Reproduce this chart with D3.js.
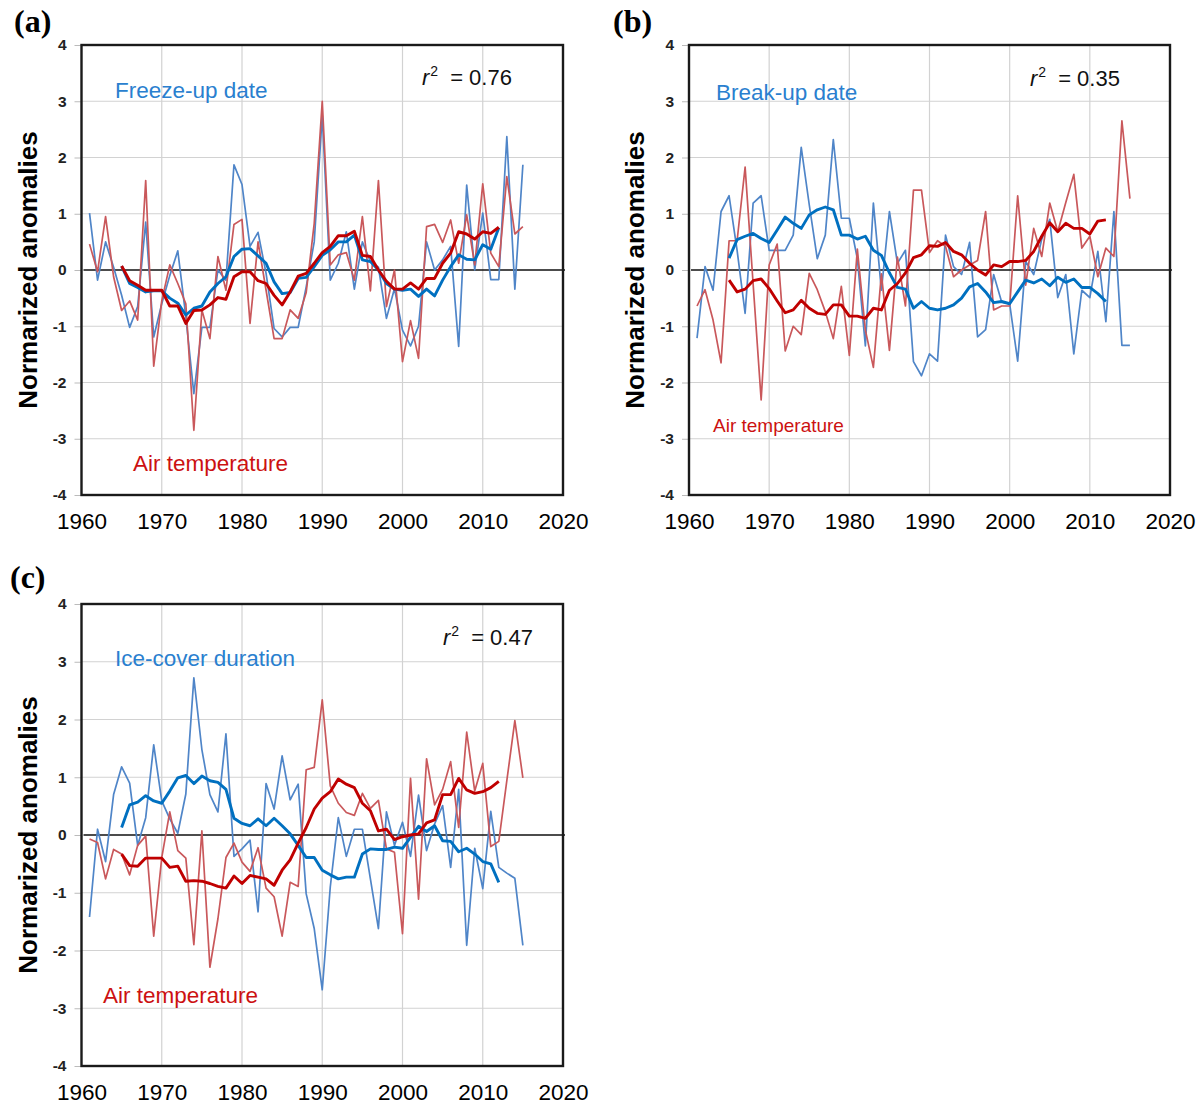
<!DOCTYPE html>
<html>
<head>
<meta charset="utf-8">
<script src="https://cdn.jsdelivr.net/npm/d3@7"></script>
<style>
  body { margin: 0; background: #fff; }
  svg { display: block; }
</style>
</head>
<body>
<svg id="chart" width="1200" height="1110"></svg>
<script>
// annual series start in 1961, 5-yr running means cover 1965-2012
var annualYears = d3.range(1961, 2016);
var smoothYears = d3.range(1965, 2013);
var xTicks = [1960, 1970, 1980, 1990, 2000, 2010, 2020];
var yTicks = [-4, -3, -2, -1, 0, 1, 2, 3, 4];

// (a) freeze-up
var freezeUp = [1.01, -0.18, 0.50, 0.05, -0.45, -1.02, -0.65, 0.85, -1.19, -0.60,
    -0.10, 0.34, -0.83, -2.20, -1.02, -1.02, 0.00, -0.18, 1.87, 1.52,
    0.42, 0.67, -0.06, -1.04, -1.19, -1.02, -1.02, -0.30, 0.50, 2.75,
    -0.18, 0.12, 0.68, -0.34, 0.50, 0.15, 0.05, -0.86, -0.33, -1.07,
    -1.35, -1.00, 0.50, 0.00, 0.18, 0.42, -1.36, 1.51, 0.00, 1.01,
    -0.17, -0.17, 2.37, -0.34, 1.87];
var airFreeze = [0.46, -0.03, 0.95, -0.12, -0.72, -0.55, -0.89, 1.59, -1.71, -0.55,
    0.09, -0.24, -0.60, -2.85, -0.71, -1.22, 0.24, -0.36, 0.81, 0.90,
    -0.95, 0.50, -0.36, -1.22, -1.22, -0.71, -0.86, -0.40, 0.83, 3.00,
    0.09, 0.27, 0.31, -0.18, 0.95, -0.37, 1.59, -0.65, 0.00, -1.63,
    -0.90, -1.57, 0.77, 0.81, 0.49, 0.89, 0.12, 0.98, 0.09, 1.53,
    0.30, 0.06, 1.66, 0.64, 0.77];
var freezeUpMean = [0.07, -0.24, -0.31, -0.39, -0.37, -0.37, -0.50, -0.59, -0.80, -0.68,
    -0.64, -0.39, -0.24, -0.12, 0.24, 0.37, 0.38, 0.25, 0.12, -0.21,
    -0.42, -0.40, -0.15, -0.13, 0.06, 0.26, 0.36, 0.50, 0.50, 0.62,
    0.18, 0.15, 0.00, -0.24, -0.34, -0.36, -0.34, -0.47, -0.34, -0.46,
    -0.18, 0.06, 0.27, 0.19, 0.18, 0.45, 0.37, 0.75];
var airFreezeMean = [0.07, -0.19, -0.27, -0.36, -0.36, -0.36, -0.64, -0.64, -0.95, -0.72,
    -0.71, -0.62, -0.49, -0.52, -0.12, -0.03, -0.03, -0.19, -0.24, -0.45,
    -0.62, -0.39, -0.11, -0.06, 0.12, 0.31, 0.42, 0.61, 0.61, 0.69,
    0.26, 0.24, 0.00, -0.20, -0.34, -0.34, -0.23, -0.34, -0.15, -0.15,
    0.12, 0.30, 0.68, 0.64, 0.55, 0.68, 0.65, 0.76];

// (b) break-up
var breakUp = [-1.21, 0.06, -0.36, 1.04, 1.32, 0.35, -0.77, 1.19, 1.32, 0.35,
    0.35, 0.35, 0.62, 2.18, 1.16, 0.20, 0.62, 2.32, 0.92, 0.92,
    0.20, -1.35, 1.19, -0.36, 1.04, 0.12, 0.35, -1.63, -1.88, -1.49,
    -1.62, 0.62, 0.06, -0.08, 0.49, -1.19, -1.06, -0.08, -0.57, -0.60,
    -1.62, 0.15, -0.08, 0.55, 0.90, -0.49, -0.08, -1.49, -0.36, -0.49,
    0.33, -0.92, 1.04, -1.34, -1.34];
var airBreak = [-0.64, -0.35, -0.89, -1.65, 0.52, 0.52, 1.83, -0.25, -2.31, 0.09,
    0.46, -1.44, -1.00, -1.15, -0.06, -0.35, -0.74, -1.22, -0.29, -1.52,
    0.37, -1.07, -1.73, -0.07, -1.43, 0.23, -0.64, 1.42, 1.42, 0.31,
    0.52, 0.42, -0.12, 0.00, 0.09, 0.17, 1.04, -0.71, -0.64, -0.64,
    1.32, -0.27, 0.74, 0.24, 1.19, 0.68, 1.20, 1.70, 0.39, 0.60,
    -0.12, 0.39, 0.24, 2.65, 1.27];
var breakUpMean = [0.21, 0.54, 0.60, 0.65, 0.56, 0.49, 0.71, 0.94, 0.83, 0.74,
    0.98, 1.07, 1.12, 1.07, 0.62, 0.62, 0.55, 0.60, 0.35, 0.26,
    -0.05, -0.31, -0.34, -0.68, -0.56, -0.68, -0.71, -0.68, -0.62, -0.50,
    -0.30, -0.24, -0.39, -0.58, -0.56, -0.60, -0.39, -0.18, -0.23, -0.16,
    -0.28, -0.13, -0.22, -0.16, -0.31, -0.31, -0.42, -0.56];
var airBreakMean = [-0.18, -0.39, -0.34, -0.19, -0.16, -0.33, -0.55, -0.76, -0.71, -0.54,
    -0.68, -0.77, -0.79, -0.62, -0.62, -0.82, -0.82, -0.86, -0.68, -0.71,
    -0.36, -0.24, -0.05, 0.22, 0.27, 0.43, 0.42, 0.49, 0.33, 0.27,
    0.12, 0.00, -0.09, 0.09, 0.06, 0.15, 0.15, 0.17, 0.33, 0.60,
    0.84, 0.68, 0.83, 0.74, 0.74, 0.64, 0.87, 0.89];

// (c) ice-cover duration
var iceCover = [-1.42, 0.10, -0.46, 0.70, 1.18, 0.90, -0.18, 0.30, 1.56, 0.59,
    0.28, 0.03, 0.71, 2.72, 1.48, 0.70, 0.40, 1.75, -0.37, -0.24,
    -0.09, -1.33, 0.89, 0.45, 1.37, 0.61, 0.88, -1.02, -1.62, -2.68,
    -0.90, 0.30, -0.37, 0.10, 0.10, -0.76, -1.62, 0.40, -0.18, 0.22,
    -0.37, 0.69, -0.27, 0.19, 0.51, -0.56, 0.79, -1.91, -0.23, -0.93,
    0.41, -0.56, -0.66, -0.75, -1.91];
var airIce = [-0.07, -0.13, -0.76, -0.25, -0.33, -0.69, -0.18, -0.02, -1.75, -0.39,
    0.40, -0.27, -0.40, -1.90, 0.07, -2.29, -1.45, -0.39, -0.14, -0.47,
    -0.63, -0.22, -0.92, -1.07, -1.75, -0.82, -0.89, 1.13, 1.17, 2.34,
    0.85, 0.55, 0.39, 0.34, 0.72, 0.46, 0.60, -0.24, -0.30, -1.71,
    0.98, -1.11, 1.32, 0.52, 0.79, 1.27, 0.13, 1.78, 0.76, 1.24,
    -0.20, -0.11, 0.94, 1.98, 0.99];
var iceCoverMean = [0.13, 0.52, 0.57, 0.68, 0.59, 0.55, 0.76, 0.99, 1.03, 0.89,
    1.02, 0.94, 0.91, 0.79, 0.29, 0.20, 0.16, 0.28, 0.16, 0.29,
    0.16, 0.02, -0.18, -0.39, -0.39, -0.61, -0.69, -0.76, -0.73, -0.73,
    -0.33, -0.24, -0.25, -0.25, -0.21, -0.23, -0.04, 0.15, 0.06, 0.16,
    -0.10, -0.11, -0.29, -0.23, -0.33, -0.46, -0.50, -0.82];
var airIceMean = [-0.33, -0.53, -0.54, -0.40, -0.40, -0.40, -0.56, -0.54, -0.80, -0.79,
    -0.80, -0.84, -0.89, -0.92, -0.71, -0.84, -0.70, -0.73, -0.76, -0.87,
    -0.61, -0.43, -0.14, 0.13, 0.45, 0.64, 0.75, 0.97, 0.88, 0.82,
    0.55, 0.42, 0.07, 0.10, -0.08, -0.03, 0.00, 0.02, 0.21, 0.26,
    0.70, 0.70, 0.98, 0.78, 0.72, 0.75, 0.82, 0.93];

var iceLabels = ['Freeze-up date', 'Break-up date', 'Ice-cover duration'];
var rSquared = ['0.76', '0.35', '0.47'];

var colors = {
    thinBlue: '#4f85c8',
    thinRed: '#c9585b',
    blue: '#0070c0',
    red: '#c00000',
    blueText: '#2a7fcf',
    redText: '#cc1111'
};

d3.anomalyPanel = class {

    constructor(svg, box) {
        this.svg = svg;
        this.box = box;
    }

    series(ice, air, iceMean, airMean) {
        this._series = [
            { years: annualYears, vals: ice, color: colors.thinBlue, width: 1.7 },
            { years: annualYears, vals: air, color: colors.thinRed, width: 1.7 },
            { years: smoothYears, vals: iceMean, color: colors.blue, width: 2.9 },
            { years: smoothYears, vals: airMean, color: colors.red, width: 2.9 }
        ];
        return this;
    }
    texts(val) {
        this._texts = val;
        return this;
    }

    draw() {
        var b = this.box, t = this._texts;
        var x = d3.scaleLinear().domain([1960, 2020]).range([0, b.width]);
        var y = d3.scaleLinear().domain([-4, 4]).range([b.height, 0]);

        var g = this.svg.append('g')
            .attr('transform', 'translate(' + b.left + ',' + b.top + ')');

        // grid
        g.selectAll('.vgrid')
            .data(xTicks.slice(1, -1)).enter()
            .append('line')
            .attr('x1', d => x(d)).attr('x2', d => x(d))
            .attr('y1', 0).attr('y2', b.height)
            .attr('stroke', '#d2d2d2').attr('stroke-width', 1.2);
        g.selectAll('.hgrid')
            .data(yTicks.filter(d => d != 0 && Math.abs(d) < 4)).enter()
            .append('line')
            .attr('x1', 0).attr('x2', b.width)
            .attr('y1', d => y(d)).attr('y2', d => y(d))
            .attr('stroke', '#d2d2d2').attr('stroke-width', 1.2);

        // y axis ticks + labels (plain hyphen minus like the original)
        var yAxis = g.append('g')
            .call(d3.axisLeft(y).tickValues(yTicks).tickFormat(d => String(d))
                .tickSize(7).tickPadding(8));
        yAxis.select('.domain').remove();
        yAxis.selectAll('line').attr('stroke', '#bbb');
        yAxis.selectAll('text')
            .attr('font-family', 'Liberation Sans, Arial, sans-serif')
            .attr('font-size', 15.5)
            .attr('font-weight', 'bold')
            .attr('fill', '#222');

        // x labels (no tick marks)
        var xAxis = g.append('g')
            .attr('transform', 'translate(0,' + b.height + ')')
            .call(d3.axisBottom(x).tickValues(xTicks).tickFormat(d3.format('d')).tickSize(0).tickPadding(18));
        xAxis.select('.domain').remove();
        xAxis.selectAll('text')
            .attr('font-family', 'Liberation Sans, Arial, sans-serif')
            .attr('font-size', 22.5)
            .attr('fill', '#000');

        // zero line
        g.append('line')
            .attr('x1', 2).attr('x2', b.width + 2)
            .attr('y1', y(0)).attr('y2', y(0))
            .attr('stroke', '#111').attr('stroke-width', 1.6);

        var line = d3.line()
            .x(d => x(d[0]))
            .y(d => y(d[1]));

        g.selectAll('.series')
            .data(this._series).enter()
            .append('path')
            .attr('d', s => line(s.years.map((yr, i) => [yr, s.vals[i]])))
            .attr('fill', 'none')
            .attr('stroke', s => s.color)
            .attr('stroke-width', s => s.width)
            .attr('stroke-linejoin', 'round');

        // frame
        g.append('rect')
            .attr('width', b.width).attr('height', b.height)
            .attr('fill', 'none')
            .attr('stroke', '#1a1a1a').attr('stroke-width', 2.4);

        // y title
        g.append('text')
            .attr('transform', 'translate(' + (-54) + ',' + (b.height / 2) + ') rotate(-90)')
            .attr('text-anchor', 'middle')
            .attr('dy', '0.35em')
            .attr('font-family', 'Liberation Sans, Arial, sans-serif')
            .attr('font-weight', 'bold')
            .attr('font-size', 26)
            .text('Normarized anomalies');

        // panel letter, in absolute coords
        this.svg.append('text')
            .attr('x', t.tag[0]).attr('y', t.tag[1])
            .attr('font-family', 'Liberation Serif, Times New Roman, serif')
            .attr('font-weight', 'bold')
            .attr('font-size', 32)
            .text(t.letter);

        this.svg.append('text')
            .attr('x', t.label[0]).attr('y', t.label[1])
            .attr('font-family', 'Liberation Sans, Arial, sans-serif')
            .attr('font-size', 22.5)
            .attr('fill', colors.blueText)
            .text(t.name);

        this.svg.append('text')
            .attr('x', t.air[0]).attr('y', t.air[1])
            .attr('font-family', 'Liberation Sans, Arial, sans-serif')
            .attr('font-size', t.airSize)
            .attr('fill', colors.redText)
            .text('Air temperature');

        var r2 = this.svg.append('text')
            .attr('x', t.r2[0]).attr('y', t.r2[1])
            .attr('font-family', 'Liberation Sans, Arial, sans-serif')
            .attr('font-size', 22)
            .attr('fill', '#111');
        r2.append('tspan').attr('font-style', 'italic').text('r');
        r2.append('tspan').attr('font-size', 14).attr('dy', -9).attr('dx', 1).text('2');
        r2.append('tspan').attr('dy', 9).attr('dx', 12).text('= ' + t.r2val);
    }
}

var svg = d3.select('#chart');
svg.append('rect').attr('width', 1200).attr('height', 1110).attr('fill', '#fff');

new d3.anomalyPanel(svg, { left: 81.5, top: 45, width: 481.5, height: 450 })
    .series(freezeUp, airFreeze, freezeUpMean, airFreezeMean)
    .texts({ letter: '(a)', tag: [14, 32], name: iceLabels[0], label: [115, 98],
        air: [133, 471], airSize: 22.5, r2: [422, 85], r2val: rSquared[0] })
    .draw();

new d3.anomalyPanel(svg, { left: 689, top: 45, width: 481, height: 450 })
    .series(breakUp, airBreak, breakUpMean, airBreakMean)
    .texts({ letter: '(b)', tag: [613, 32], name: iceLabels[1], label: [716, 100],
        air: [713, 432], airSize: 19, r2: [1030, 86], r2val: rSquared[1] })
    .draw();

new d3.anomalyPanel(svg, { left: 81.5, top: 604, width: 481.5, height: 462 })
    .series(iceCover, airIce, iceCoverMean, airIceMean)
    .texts({ letter: '(c)', tag: [10, 588], name: iceLabels[2], label: [115, 666],
        air: [103, 1003], airSize: 22.5, r2: [443, 645], r2val: rSquared[2] })
    .draw();
</script>
</body>
</html>
